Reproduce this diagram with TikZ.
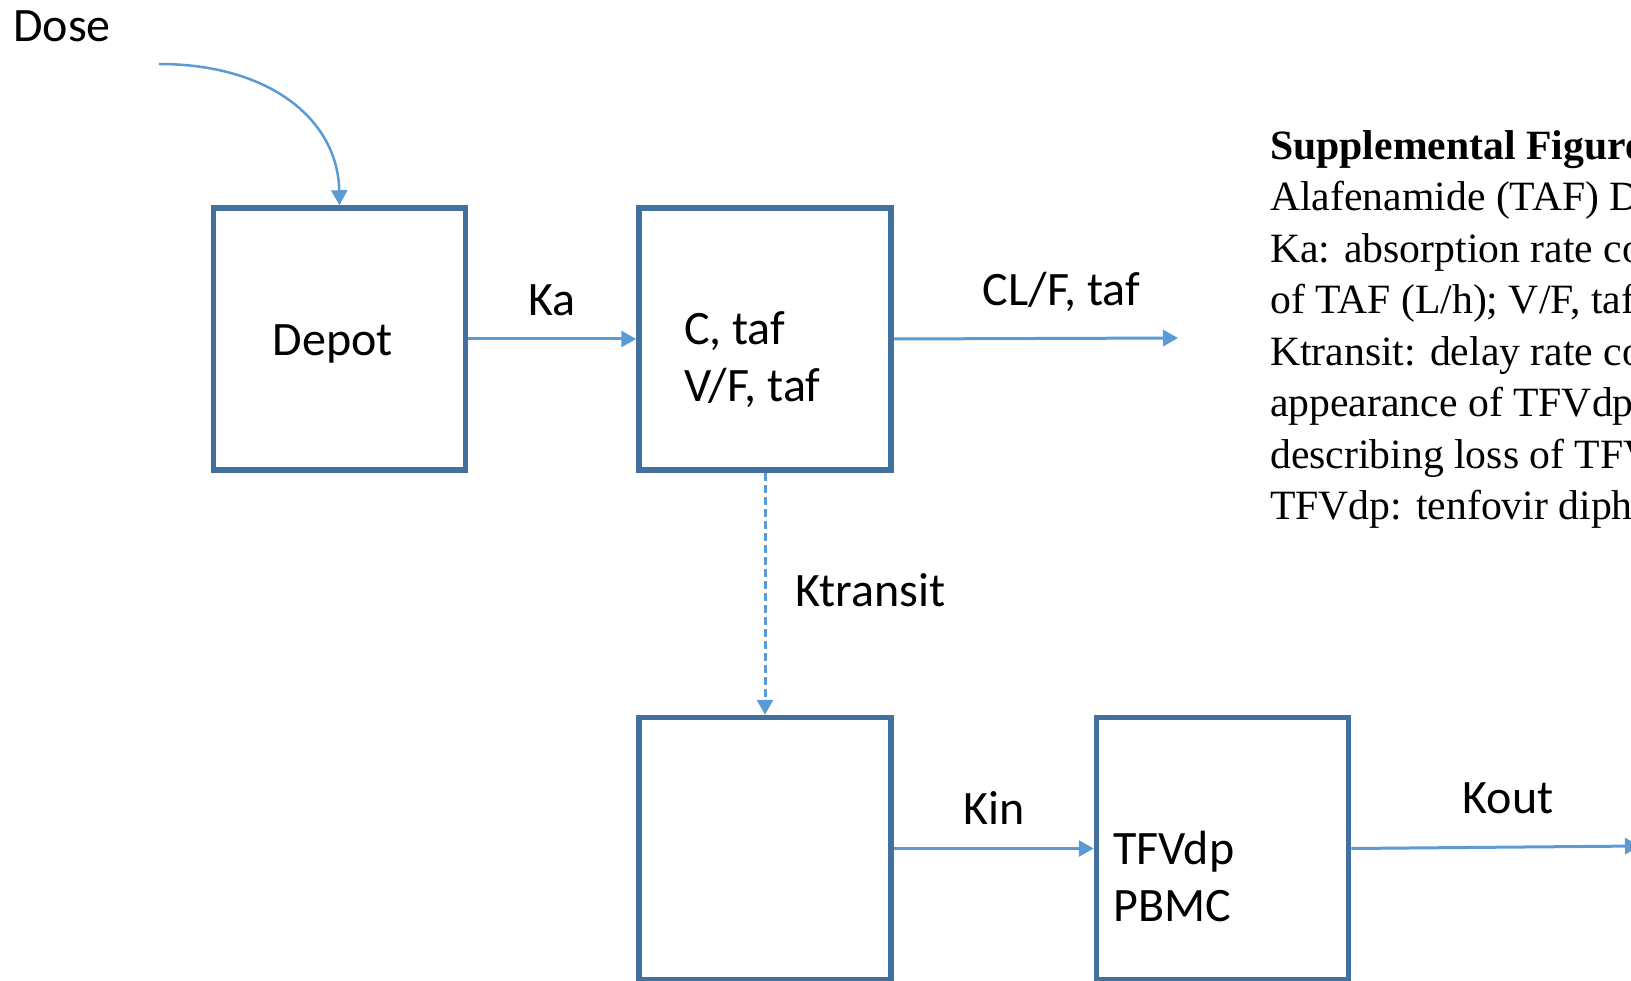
\documentclass[tikz,border=0pt]{standalone}
\usepackage{fontspec}
\setmainfont{Carlito}
\newfontfamily\capfont{Liberation Serif}
\usetikzlibrary{arrows.meta,positioning}
\definecolor{pkline}{HTML}{41719C}
\definecolor{pkarrow}{HTML}{5B9BD5}

\begin{document}
\begin{tikzpicture}[x=1pt,y=-1pt,
  cmt/.style={draw=pkline,line width=5.5pt,fill=white,minimum width=252pt,
    minimum height=262pt,inner sep=0pt},
  lbl/.style={inner sep=0pt,text=black,font=\fontsize{48}{57}\selectfont,align=left},
  arr/.style={-{Triangle[length=15pt,width=16pt]},line width=3pt,pkarrow},
  note/.style={inner sep=0pt,align=left,font=\capfont\fontsize{41.7}{51.5}\selectfont}]
  \useasboundingbox (0,0) rectangle (1631,981);
  \node[cmt] (depot) at (339.5,339) {};
  \node[cmt,right=168pt of depot] (central) {};
  \node[cmt,below=242pt of central] (transit) {};
  \node[cmt,right=200pt of transit] (pbmc) {};
  \node[lbl] (depottxt) at (333,344) {Depot};
  \node[lbl,anchor=west] (centraltxt) at (684,360) {C, taf\\V/F, taf};
  \node[lbl,anchor=west] (pbmctxt) at (1113,876) {TFVdp\\PBMC};
  % doses and flows
  \node[lbl] (dose) at (62,26) {Dose};
  \coordinate (dosefrom) at (159,64);
  \draw[arr,line width=2.5pt] (dosefrom) .. controls (270,64) and (338,120) .. (depot.north);
  \draw[arr] (depot) -- node[lbl,above=22pt] (ka) {Ka} (central);
  \coordinate (clout) at (1178,338);
  \draw[arr] (central.east) -- (clout) node[lbl,pos=0.59,above=25pt] (cl) {CL/F, taf};
  \draw[arr,dash pattern=on 8pt off 4pt] (central) -- (transit);
  \node[lbl,anchor=west] (ktr) at (795,590) {Ktransit};
  \draw[arr] (transit) -- node[lbl,above=23pt] (kin) {Kin} (pbmc);
  \coordinate (koutto) at (1640,846);
  \draw[arr] (pbmc.east) -- (koutto);
  \node[lbl] (kout) at (1508,798) {Kout};
  % caption
  \node[note,anchor=north west] (caption) at (1270,130)
    {\textbf{Supplemental Figure}\\Alafenamide (TAF) Dose\\Ka: absorption rate const\\
     of TAF (L/h); V/F, taf\\Ktransit: delay rate const\\appearance of TFVdp\\
     describing loss of TFV\\TFVdp: tenfovir diph};
\end{tikzpicture}
\end{document}
